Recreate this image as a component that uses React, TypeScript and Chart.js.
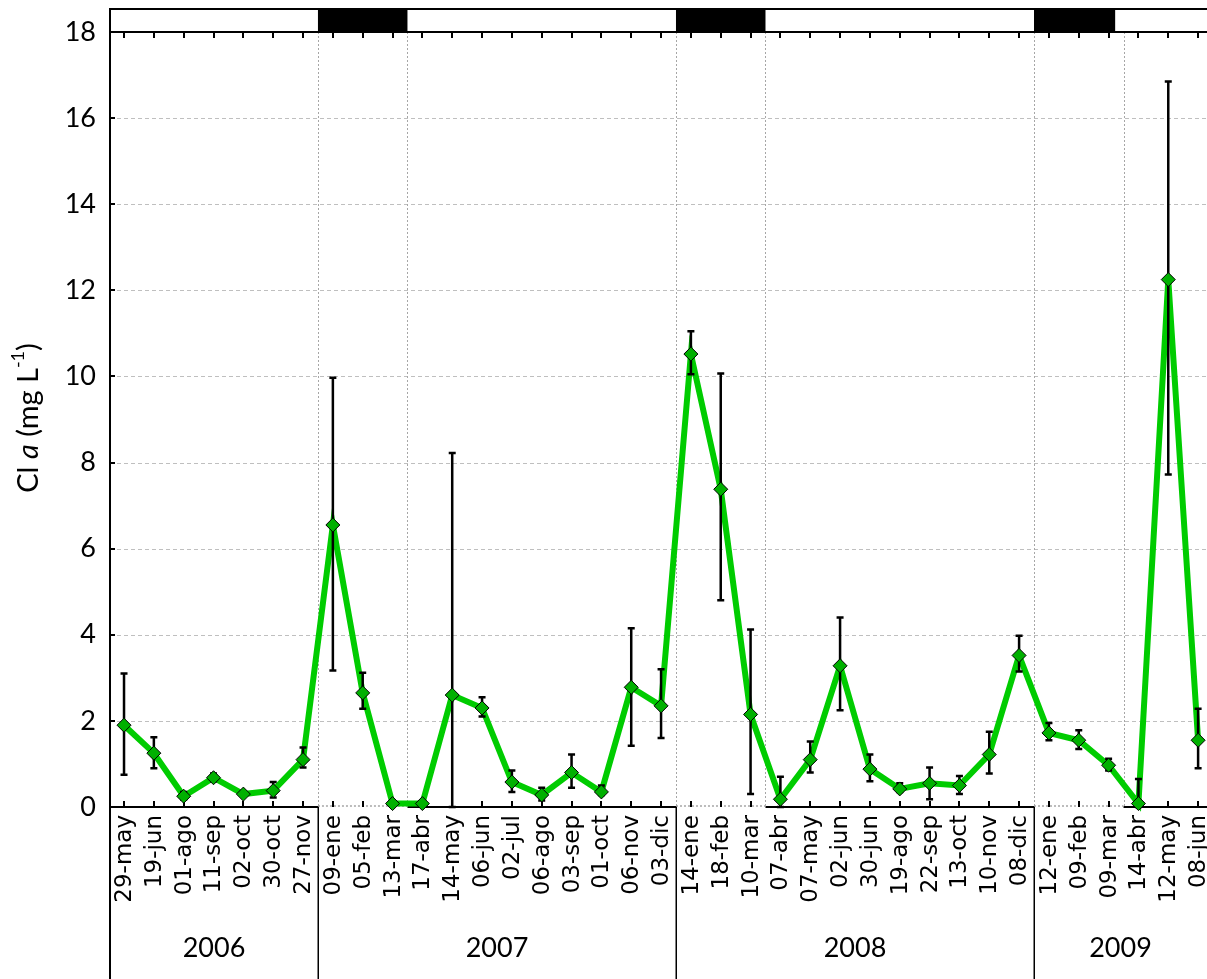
import React, { useEffect, useRef } from "react";
import { Chart, registerables } from "chart.js";

Chart.register(...registerables);

const dates = [
  "29-may", "19-jun", "01-ago", "11-sep", "02-oct", "30-oct", "27-nov",
  "09-ene", "05-feb", "13-mar", "17-abr", "14-may", "06-jun", "02-jul", "06-ago", "03-sep", "01-oct", "06-nov", "03-dic",
  "14-ene", "18-feb", "10-mar", "07-abr", "07-may", "02-jun", "30-jun", "19-ago", "22-sep", "13-oct", "10-nov", "08-dic",
  "12-ene", "09-feb", "09-mar", "14-abr", "12-may", "08-jun",
];

const means = [
  1.9, 1.25, 0.25, 0.68, 0.3, 0.38, 1.1,
  6.55, 2.65, 0.08, 0.08, 2.6, 2.3, 0.58, 0.28, 0.8, 0.35, 2.78, 2.35,
  10.52, 7.38, 2.15, 0.18, 1.1, 3.28, 0.88, 0.42, 0.55, 0.5, 1.22, 3.52,
  1.72, 1.55, 0.97, 0.08, 12.25, 1.55,
];

const lows = [
  0.75, 0.9, 0.17, 0.6, 0.27, 0.22, 0.92,
  3.17, 2.28, 0.04, 0.05, 0.0, 2.1, 0.35, 0.15, 0.45, 0.28, 1.42, 1.6,
  10.05, 4.8, 0.3, 0.0, 0.8, 2.25, 0.6, 0.35, 0.18, 0.3, 0.78, 3.15,
  1.55, 1.35, 0.85, 0.0, 7.72, 0.9,
];

const highs = [
  3.1, 1.62, 0.35, 0.78, 0.33, 0.58, 1.38,
  9.97, 3.12, 0.12, 0.12, 8.22, 2.55, 0.85, 0.45, 1.22, 0.5, 4.15, 3.2,
  11.05, 10.07, 4.12, 0.7, 1.52, 4.4, 1.22, 0.55, 0.92, 0.72, 1.75, 3.98,
  1.95, 1.78, 1.12, 0.65, 16.85, 2.28,
];

const years = ["2006", "2007", "2008", "2009"];
// year boundaries in category-index units
const yearEdges = [-0.47, 6.5, 18.5, 30.5];
// mixing periods (dotted boxes) and black band segments
const periodStarts = [6.5, 18.5, 30.5];
const periodEnds = [9.5, 21.5, 33.5];
const bandEnds = [9.5, 21.5, 33.22];
const yTicks = [0, 2, 4, 6, 8, 10, 12, 14, 16, 18];

const NUM_FONT = "Lato, 'Open Sans', sans-serif";
const DATE_FONT = "'DejaVu Sans', Verdana, sans-serif";

const decorPlugin = {
  id: "decor",
  beforeDatasetsDraw(chart: any) {
    const { ctx, chartArea } = chart;
    const xs = chart.scales.x;
    const ys = chart.scales.y;
    const L = chartArea.left;
    const R = chart.width;
    const T = chartArea.top;
    const B = chartArea.bottom;
    ctx.save();
    // horizontal dashed grid
    ctx.strokeStyle = "#bfbfbf";
    ctx.lineWidth = 1;
    ctx.setLineDash([4, 3]);
    for (const v of yTicks) {
      if (v === 0 || v === 18) continue;
      const y = Math.round(ys.getPixelForValue(v)) + 0.5;
      ctx.beginPath();
      ctx.moveTo(L, y);
      ctx.lineTo(R, y);
      ctx.stroke();
    }
    // vertical dotted period lines
    ctx.strokeStyle = "#a6a6a6";
    ctx.setLineDash([2, 2]);
    const vlines = [...periodStarts, ...periodEnds];
    for (const p of vlines) {
      const x = Math.round(xs.getPixelForValue(p)) + 0.5;
      ctx.beginPath();
      ctx.moveTo(x, T);
      ctx.lineTo(x, B);
      ctx.stroke();
    }
    ctx.setLineDash([]);
    // bottom axis (black) with dotted segments inside periods
    ctx.strokeStyle = "#000";
    ctx.lineWidth = 2;
    ctx.beginPath();
    ctx.moveTo(L, B);
    ctx.lineTo(R, B);
    ctx.stroke();
    for (let k = 0; k < periodStarts.length; k++) {
      const a = xs.getPixelForValue(periodStarts[k]);
      const b = xs.getPixelForValue(periodEnds[k]);
      ctx.fillStyle = "#fff";
      ctx.fillRect(a + 1, B - 1.5, b - a - 1, 3);
      ctx.strokeStyle = "#a6a6a6";
      ctx.lineWidth = 1.5;
      ctx.setLineDash([2, 2]);
      ctx.beginPath();
      ctx.moveTo(a, B - 1);
      ctx.lineTo(b, B - 1);
      ctx.stroke();
      ctx.setLineDash([]);
    }
    // x ticks (bottom and top)
    ctx.strokeStyle = "#000";
    ctx.lineWidth = 2;
    for (let i = 0; i < dates.length; i++) {
      const x = Math.round(xs.getPixelForValue(i));
      ctx.beginPath();
      ctx.moveTo(x, B);
      ctx.lineTo(x, B - 6);
      ctx.moveTo(x, T);
      ctx.lineTo(x, T + 6);
      ctx.stroke();
    }
    // y ticks (inward)
    for (const v of yTicks) {
      const y = Math.round(ys.getPixelForValue(v));
      ctx.beginPath();
      ctx.moveTo(L, y);
      ctx.lineTo(L + 5, y);
      ctx.stroke();
    }
    // top band
    const bt = 9;
    ctx.fillStyle = "#fff";
    ctx.fillRect(L, bt, R - L, T - bt);
    ctx.fillStyle = "#000";
    for (let k = 0; k < periodStarts.length; k++) {
      const a = xs.getPixelForValue(periodStarts[k]);
      const b = xs.getPixelForValue(bandEnds[k]);
      ctx.fillRect(a, bt, b - a, T - bt);
    }
    ctx.lineWidth = 2;
    ctx.strokeStyle = "#000";
    ctx.beginPath();
    ctx.moveTo(L, bt);
    ctx.lineTo(R, bt);
    ctx.moveTo(L, T);
    ctx.lineTo(R, T);
    ctx.stroke();
    // left axis line
    ctx.beginPath();
    ctx.moveTo(L, bt - 1);
    ctx.lineTo(L, chart.height);
    ctx.stroke();
    // year separators
    ctx.lineWidth = 1.5;
    for (let k = 1; k < yearEdges.length; k++) {
      const x = Math.round(xs.getPixelForValue(yearEdges[k])) + 0.25;
      ctx.beginPath();
      ctx.moveTo(x, B);
      ctx.lineTo(x, chart.height);
      ctx.stroke();
    }
    ctx.restore();
  },
  afterDatasetDraw(chart: any, args: any) {
    if (args.index !== 0) return;
    const { ctx } = chart;
    const xs = chart.scales.x;
    const ys = chart.scales.y;
    ctx.save();
    ctx.strokeStyle = "#000";
    ctx.lineWidth = 2.5;
    for (let i = 0; i < means.length; i++) {
      const x = xs.getPixelForValue(i);
      const y1 = ys.getPixelForValue(lows[i]);
      const y2 = ys.getPixelForValue(highs[i]);
      ctx.beginPath();
      ctx.moveTo(x, y1);
      ctx.lineTo(x, y2);
      ctx.moveTo(x - 3.5, y1);
      ctx.lineTo(x + 3.5, y1);
      ctx.moveTo(x - 3.5, y2);
      ctx.lineTo(x + 3.5, y2);
      ctx.stroke();
    }
    ctx.restore();
  },
  afterDraw(chart: any) {
    const { ctx, chartArea } = chart;
    const xs = chart.scales.x;
    const B = chartArea.bottom;
    ctx.save();
    ctx.fillStyle = "#000";
    // date labels
    ctx.font = `23px ${DATE_FONT}`;
    ctx.textAlign = "right";
    ctx.textBaseline = "middle";
    for (let i = 0; i < dates.length; i++) {
      const x = xs.getPixelForValue(i);
      ctx.save();
      ctx.translate(x + 1, B + 8);
      ctx.rotate(-Math.PI / 2);
      ctx.fillText(dates[i], 0, 0);
      ctx.restore();
    }
    // year labels
    ctx.font = `27px ${NUM_FONT}`;
    ctx.textAlign = "center";
    ctx.textBaseline = "middle";
    for (let k = 0; k < years.length; k++) {
      const a = k === 0 ? chartArea.left : xs.getPixelForValue(yearEdges[k]);
      const b = k === years.length - 1 ? chart.width : xs.getPixelForValue(yearEdges[k + 1]);
      ctx.fillText(years[k], (a + b) / 2, 948);
    }
    // y title with italic a and superscript
    const size = 29;
    const parts = [
      { t: "Cl ", f: `${size}px ${NUM_FONT}`, dy: 0 },
      { t: "a", f: `italic ${size}px ${NUM_FONT}`, dy: 0 },
      { t: " (mg L", f: `${size}px ${NUM_FONT}`, dy: 0 },
      { t: "-1", f: `${Math.round(size * 0.62)}px ${NUM_FONT}`, dy: -11 },
      { t: ")", f: `${size}px ${NUM_FONT}`, dy: 0 },
    ];
    let total = 0;
    for (const p of parts) {
      ctx.font = p.f;
      total += ctx.measureText(p.t).width;
    }
    ctx.translate(29, 418);
    ctx.rotate(-Math.PI / 2);
    ctx.textAlign = "left";
    ctx.textBaseline = "middle";
    let cx = -total / 2;
    for (const p of parts) {
      ctx.font = p.f;
      ctx.fillText(p.t, cx, p.dy);
      cx += ctx.measureText(p.t).width;
    }
    ctx.restore();
  },
};

export default function App() {
  const ref = useRef<HTMLCanvasElement | null>(null);
  useEffect(() => {
    document.body.style.margin = "0";
    const canvas = ref.current;
    if (!canvas) return;
    const pts = means.map((v, i) => ({ x: i, y: v }));
    const chart = new Chart(canvas, {
      type: "line",
      data: {
        datasets: [
          {
            data: pts,
            borderColor: "#00cc00",
            borderWidth: 6,
            pointRadius: 0,
            tension: 0,
            clip: false,
            order: 2,
          } as any,
          {
            data: pts,
            showLine: false,
            pointStyle: "rectRot",
            pointRadius: 7,
            pointBackgroundColor: "#00b000",
            pointBorderColor: "#000",
            pointBorderWidth: 1,
            clip: false,
            order: 1,
          } as any,
        ],
      },
      options: {
        animation: false,
        responsive: false,
        devicePixelRatio: 1,
        layout: { padding: { top: 32, left: 0, right: 0, bottom: 0 } },
        plugins: { legend: { display: false }, tooltip: { enabled: false } },
        scales: {
          x: {
            type: "linear",
            min: -0.47,
            max: 36.03,
            grid: { display: false, drawTicks: false },
            border: { display: false },
            ticks: { display: false },
            afterFit: (s: any) => {
              s.height = 172;
            },
          },
          y: {
            min: 0,
            max: 18,
            grid: { display: false, drawTicks: false },
            border: { display: false },
            ticks: {
              stepSize: 2,
              color: "#000",
              padding: 14,
              font: { family: NUM_FONT, size: 27 },
            },
            afterFit: (s: any) => {
              s.width = 110;
            },
          },
        },
      },
      plugins: [decorPlugin],
    });
    return () => chart.destroy();
  }, []);
  return (
    <div style={{ width: 1207, height: 979 }}>
      <canvas ref={ref} width={1207} height={979} style={{ display: "block" }} />
    </div>
  );
}
